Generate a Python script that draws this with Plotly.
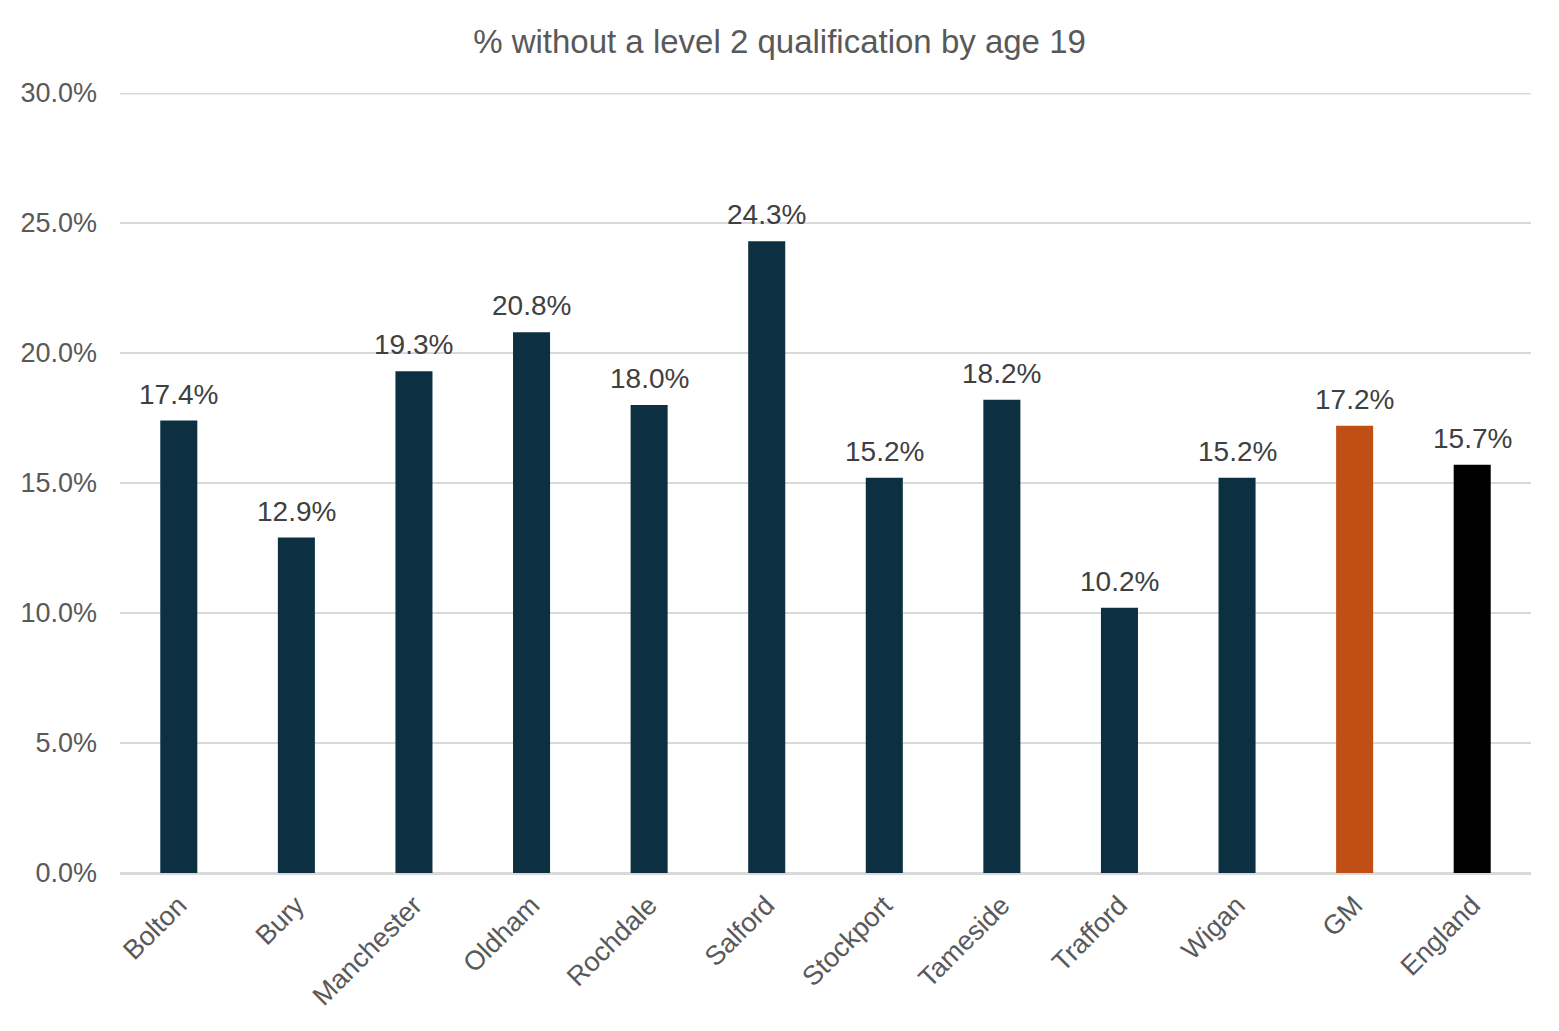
import plotly.graph_objects as go

categories = ["Bolton", "Bury", "Manchester", "Oldham", "Rochdale", "Salford",
              "Stockport", "Tameside", "Trafford", "Wigan", "GM", "England"]
values = [17.4, 12.9, 19.3, 20.8, 18.0, 24.3, 15.2, 18.2, 10.2, 15.2, 17.2, 15.7]
bar_colors = ["#0C3042"] * 10 + ["#C04F15", "#000000"]
y_ticks = [0, 5, 10, 15, 20, 25, 30]
y_ticklabels = [f"{v:.1f}%" for v in y_ticks]

FONT = "Liberation Sans, Arial, sans-serif"
W, H = 1543, 1015

fig = go.Figure()
fig.add_trace(go.Bar(
    x=categories, y=values,
    marker=dict(color=bar_colors, line=dict(width=0)),
    hoverinfo="skip",
))

for c, v in zip(categories, values):
    fig.add_annotation(
        x=c, y=v, text=f"{v:.1f}%", showarrow=False,
        yanchor="bottom", yshift=9,
        font=dict(family=FONT, size=28, color="#404040"),
    )

# top gridline at the axis maximum (half of it is clipped by the plot area)
fig.add_hline(y=y_ticks[-1], line=dict(color="#D9D9D9", width=3), layer="below")

fig.update_layout(
    width=W, height=H,
    paper_bgcolor="white", plot_bgcolor="white",
    margin=dict(l=112, r=20, t=85, b=150),
    bargap=0.685,
    showlegend=False,
    title=dict(
        text="% without a level 2 qualification by age 19",
        x=0.5, xanchor="center", y=1 - 33 / H, yanchor="middle",
        font=dict(family=FONT, size=33, color="#595959"),
    ),
    font=dict(family=FONT, color="#595959"),
)

fig.update_yaxes(
    range=[0, 30], tickvals=y_ticks, ticktext=y_ticklabels,
    showgrid=True, gridcolor="#D9D9D9", gridwidth=1.5,
    zeroline=True, zerolinecolor="#D9D9D9", zerolinewidth=1.5,
    tickfont=dict(family=FONT, size=27, color="#595959"),
    ticks="", ticklen=0, showline=False, ticklabelstandoff=22,
)
fig.update_xaxes(
    tickangle=-45,
    tickfont=dict(family=FONT, size=27, color="#595959"),
    showline=True, linecolor="#D9D9D9", linewidth=1.5,
    ticks="", ticklabelstandoff=4,
)

fig.write_html("out.html")
